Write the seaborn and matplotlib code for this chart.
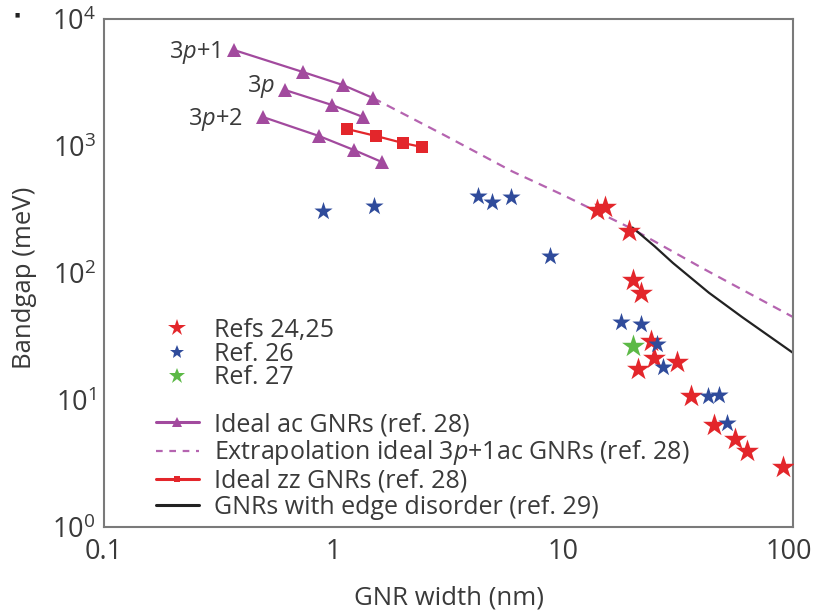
import numpy as np
import pandas as pd
import matplotlib
matplotlib.use("Agg")
import matplotlib.pyplot as plt
import matplotlib.transforms as mtransforms
import seaborn as sns
from matplotlib.lines import Line2D

# ---------------- data ----------------
ac_3p1_w = [0.368, 0.734, 1.097, 1.483]
ac_3p1_e = [5700, 3826, 3020, 2388]
ac_3p_w = [0.614, 0.983, 1.342]
ac_3p_e = [2760, 2103, 1692]
ac_3p2_w = [0.492, 0.863, 1.225, 1.622]
ac_3p2_e = [1692, 1199, 930, 748]

zz_w = [1.143, 1.528, 2.003, 2.422]
zz_e = [1361, 1199, 1056, 982]

extrap_w = [1.483, 3.0, 6.0, 10.0, 20.0, 40.0, 100.0]
extrap_e = [2388, 1230, 630, 410, 222, 110, 45]

disorder_w = [20.0, 25.0, 30.0, 43.0, 60.0, 100.0]
disorder_e = [228, 162, 120, 70, 45, 23.5]

ref2425_w = [14.0, 15.2, 19.3, 20.1, 21.8, 24.1, 24.8, 31.3, 21.1, 36.0, 45.3, 55.9, 63.0, 90.4]
ref2425_e = [313, 331, 214, 88, 69.6, 29.1, 21.4, 19.9, 17.5, 10.7, 6.36, 4.93, 3.97, 2.97]

ref26_w = [0.897, 1.497, 4.25, 4.89, 5.91, 8.74, 17.8, 21.8, 25.5, 27.1, 42.6, 47.6, 51.5]
ref26_e = [308, 337, 404, 362, 397, 136, 41.1, 39.7, 27.6, 18.2, 10.7, 10.9, 6.59]

ref27_w = [20.1]
ref27_e = [26.6]

x_ticks = [0.1, 1, 10, 100]
x_ticklabels = ["0.1", "1", "10", "100"]

family_labels = ["3$\\it{p}$+1", "3$\\it{p}$", "3$\\it{p}$+2"]

legend_labels = ["Refs 24,25", "Ref. 26", "Ref. 27",
                 "Ideal ac GNRs (ref. 28)",
                 "Extrapolation ideal 3$\\it{p}$+1ac GNRs (ref. 28)",
                 "Ideal zz GNRs (ref. 28)",
                 "GNRs with edge disorder (ref. 29)"]

# ---------------- style ----------------
sns.set_theme(style="white")
FONT = "Open Sans"
TXT = "#3a3a3a"
SPN = "#7a7a7a"
plt.rcParams["font.family"] = [FONT, "DejaVu Sans"]
plt.rcParams["mathtext.fontset"] = "custom"
plt.rcParams["mathtext.rm"] = FONT
plt.rcParams["mathtext.it"] = FONT + ":italic"
plt.rcParams["mathtext.bf"] = FONT + ":bold"
plt.rcParams["text.color"] = TXT

PURPLE = "#a24a9e"
PURPLE_D = "#b564b0"
RED = "#e3262b"
BLUE = "#2f4b9b"
GREEN = "#5cb946"

fig = plt.figure(figsize=(8.15, 6.11), dpi=100)
ax = fig.add_axes([104/815, 1-527/611, (793-104)/815, (527-19)/611])

# ideal armchair families
for w, e in [(ac_3p1_w, ac_3p1_e), (ac_3p_w, ac_3p_e), (ac_3p2_w, ac_3p2_e)]:
    df = pd.DataFrame({"w": w, "e": e})
    sns.lineplot(data=df, x="w", y="e", ax=ax, color=PURPLE, lw=1.6,
                 marker="^", markersize=10, markeredgewidth=0, sort=False,
                 estimator=None, zorder=3)

# extrapolation
sns.lineplot(x=extrap_w, y=extrap_e, ax=ax, color=PURPLE_D, lw=1.6,
             linestyle=(0, (4, 3)), sort=False, estimator=None, zorder=2)

# zigzag
sns.lineplot(x=zz_w, y=zz_e, ax=ax, color=RED, lw=1.6, marker="s",
             markersize=8, markeredgewidth=0, sort=False, estimator=None, zorder=3)

# edge disorder
sns.lineplot(x=disorder_w, y=disorder_e, ax=ax, color="#222222", lw=1.6,
             sort=False, estimator=None, zorder=2)

# experimental stars
sns.scatterplot(x=ref2425_w, y=ref2425_e, ax=ax, marker="*", s=300,
                color=RED, linewidth=0, zorder=4)
sns.scatterplot(x=ref26_w, y=ref26_e, ax=ax, marker="*", s=190,
                color=BLUE, linewidth=0, zorder=5)
sns.scatterplot(x=ref27_w, y=ref27_e, ax=ax, marker="*", s=300,
                color=GREEN, linewidth=0, zorder=4)

ax.set_xscale("log")
ax.set_yscale("log")
ax.set_xlim(0.1, 100)
ax.set_ylim(1, 1e4)

# family labels
ax.text(0.32, 5400, family_labels[0], ha="right", va="center", fontsize=17, color=TXT)
ax.text(0.555, 2966, family_labels[1], ha="right", va="center", fontsize=17, color=TXT)
ax.text(0.403, 1603, family_labels[2], ha="right", va="center", fontsize=17, color=TXT)

for s in ax.spines.values():
    s.set_color(SPN)
    s.set_linewidth(1.5)
    s.set_visible(True)

ax.tick_params(which="both", direction="in", top=False, right=False,
               colors=SPN, labelcolor=TXT, labelsize=19.5)
ax.tick_params(which="major", length=9, width=1.0)
ax.tick_params(which="minor", length=5, width=1.0)
ax.tick_params(axis="x", pad=8)
ax.tick_params(axis="y", pad=6)
ax.set_xticks(x_ticks)
ax.set_xticklabels(x_ticklabels)
# nudge last x tick label so it stays inside the canvas
last = ax.get_xticklabels()[-1]
last.set_transform(last.get_transform() +
                   mtransforms.ScaledTranslation(-4/100, 0, fig.dpi_scale_trans))

ax.set_xlabel("GNR width (nm)", fontsize=18.5, color=TXT, labelpad=14)
ax.set_ylabel("Bandgap (meV)", fontsize=18.5, color=TXT)
ax.yaxis.set_label_coords(-0.097, 0.49)

# legends
h1 = [Line2D([], [], ls="none", marker="*", color=RED, markersize=13, markeredgewidth=0),
      Line2D([], [], ls="none", marker="*", color=BLUE, markersize=10, markeredgewidth=0),
      Line2D([], [], ls="none", marker="*", color=GREEN, markersize=12, markeredgewidth=0)]
leg1 = ax.legend(h1, legend_labels[:3], loc="upper left",
                 bbox_to_anchor=(156/815, 1-318/611), bbox_transform=fig.transFigure,
                 frameon=False, fontsize=18, handlelength=1.7, handletextpad=0.6,
                 labelspacing=-0.05, borderpad=0, borderaxespad=0)
ax.add_artist(leg1)
h2 = [Line2D([], [], color=PURPLE, lw=2.2, marker="^", markersize=7, markeredgewidth=0),
      Line2D([], [], color=PURPLE_D, lw=1.6, linestyle=(0, (3, 3))),
      Line2D([], [], color=RED, lw=2.2, marker="s", markersize=5, markeredgewidth=0),
      Line2D([], [], color="#222222", lw=2.2)]
leg2 = ax.legend(h2, legend_labels[3:], loc="upper left",
                 bbox_to_anchor=(156/815, 1-412/611), bbox_transform=fig.transFigure,
                 frameon=False, fontsize=18, handlelength=1.7, handletextpad=0.6,
                 labelspacing=0.05, borderpad=0, borderaxespad=0)

fig.text(17/815, 1-15/611, "■", fontsize=4, color="#222222", ha="center", va="center")

fig.savefig("out.png", dpi=100)
